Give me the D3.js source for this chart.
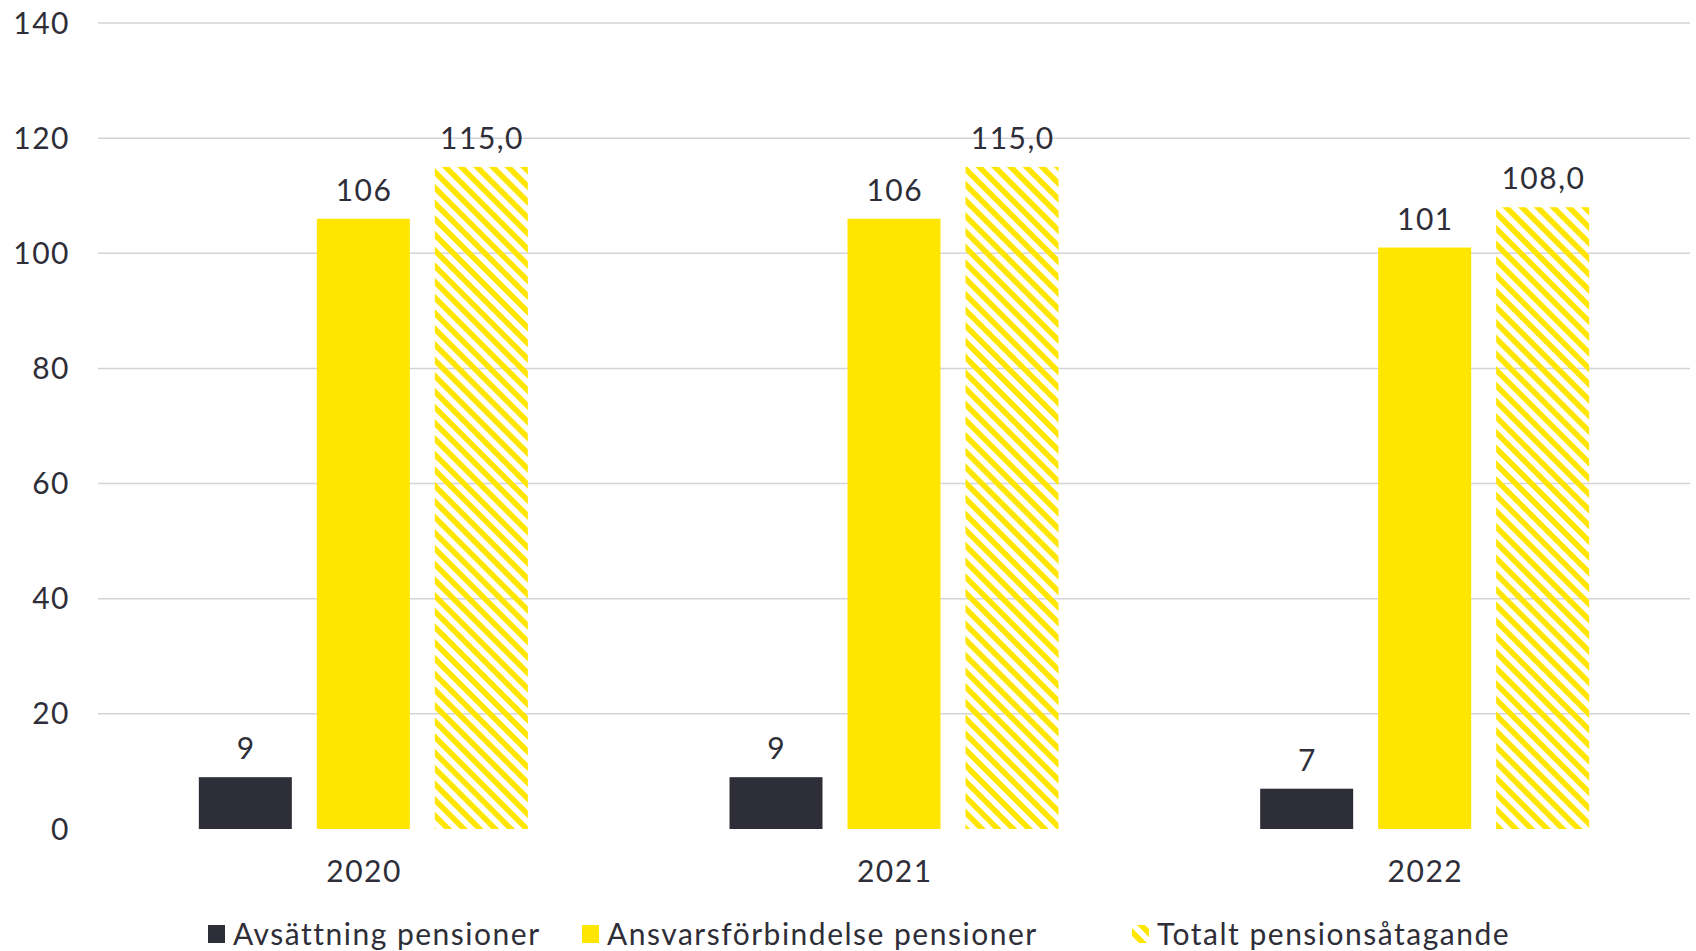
<!DOCTYPE html>
<html><head><meta charset="utf-8">
<script src="https://cdn.jsdelivr.net/npm/d3@7"></script>
<style>html,body{margin:0;padding:0;background:#fff;}</style>
</head><body>
<svg id="c" width="1696" height="951"></svg>
<script>
const categories = ["2020", "2021", "2022"];
const seriesNames = ["Avsättning pensioner", "Ansvarsförbindelse pensioner", "Totalt pensionsåtagande"];
const avsattning = [9, 9, 7];
const ansvar = [106, 106, 101];
const totalt = [115, 115, 108];
const yTicks = [0, 20, 40, 60, 80, 100, 120, 140];

const font = "Lato, 'Open Sans', sans-serif";
const fs = 30, ls = 1.5;
const textColor = "#2e2e38";
const dark = "#2e2e38";
const yellow = "#ffe600";

const svg = d3.select("#c");
const defs = svg.append("defs");
const pat = defs.append("pattern").attr("id", "hatch").attr("patternUnits", "userSpaceOnUse")
  .attr("width", 11.1).attr("height", 11.1).attr("patternTransform", "rotate(45)");
pat.append("rect").attr("x", 0).attr("y", 0).attr("width", 11.1).attr("height", 5.6).attr("fill", yellow);

const mLeft = 98, mRight = 1690, mTop = 23, mBottom = 829;
const x = d3.scaleBand().domain(categories).range([mLeft, mRight]).padding(0);
const y = d3.scaleLinear().domain([0, 140]).range([mBottom, mTop]);

function styleText(sel) {
  return sel.attr("font-family", font).attr("font-size", fs)
    .attr("letter-spacing", ls).attr("fill", textColor);
}

// gridlines
svg.append("g").selectAll("line").data(yTicks.filter(d => d > 0)).join("line")
  .attr("x1", mLeft).attr("x2", mRight)
  .attr("y1", d => y(d)).attr("y2", d => y(d))
  .attr("stroke", "#d4d4d8").attr("stroke-width", 1.5);

// y tick labels
svg.append("g").selectAll("text").data(yTicks).join("text")
  .attr("x", 70).attr("y", d => y(d)).attr("dy", "0.35em")
  .attr("text-anchor", "end").call(styleText).text(d => d);

const barW = 93, step = 118;
const series = [
  {vals: avsattning, fill: dark, fmt: d => d, off: -1},
  {vals: ansvar, fill: yellow, fmt: d => d, off: 0},
  {vals: totalt, fill: "url(#hatch)", fmt: d => d.toFixed(1).replace(".", ","), off: 1}
];

series.forEach(s => {
  const g = svg.append("g");
  categories.forEach((c, i) => {
    const cx = x(c) + x.bandwidth() / 2 + s.off * step;
    const v = s.vals[i];
    g.append("rect").attr("x", cx - barW / 2).attr("width", barW)
      .attr("y", y(v)).attr("height", y(0) - y(v)).attr("fill", s.fill);
    g.append("text").attr("x", cx + ls / 2).attr("y", y(v) - 18)
      .attr("text-anchor", "middle").call(styleText).text(s.fmt(v));
  });
});

// x axis labels
svg.append("g").selectAll("text").data(categories).join("text")
  .attr("x", d => x(d) + x.bandwidth() / 2 + ls / 2).attr("y", 882)
  .attr("text-anchor", "middle").call(styleText).text(d => d);

// legend
const legendX = [208, 582, 1132];
const legendFill = [dark, yellow, "url(#hatch)"];
const lg = svg.append("g");
seriesNames.forEach((n, i) => {
  lg.append("rect").attr("x", legendX[i]).attr("y", 925).attr("width", 17).attr("height", 18)
    .attr("fill", legendFill[i]);
  lg.append("text").attr("x", legendX[i] + 25).attr("y", 934).attr("dy", "0.35em")
    .call(styleText).text(n);
});
</script>
</body></html>
